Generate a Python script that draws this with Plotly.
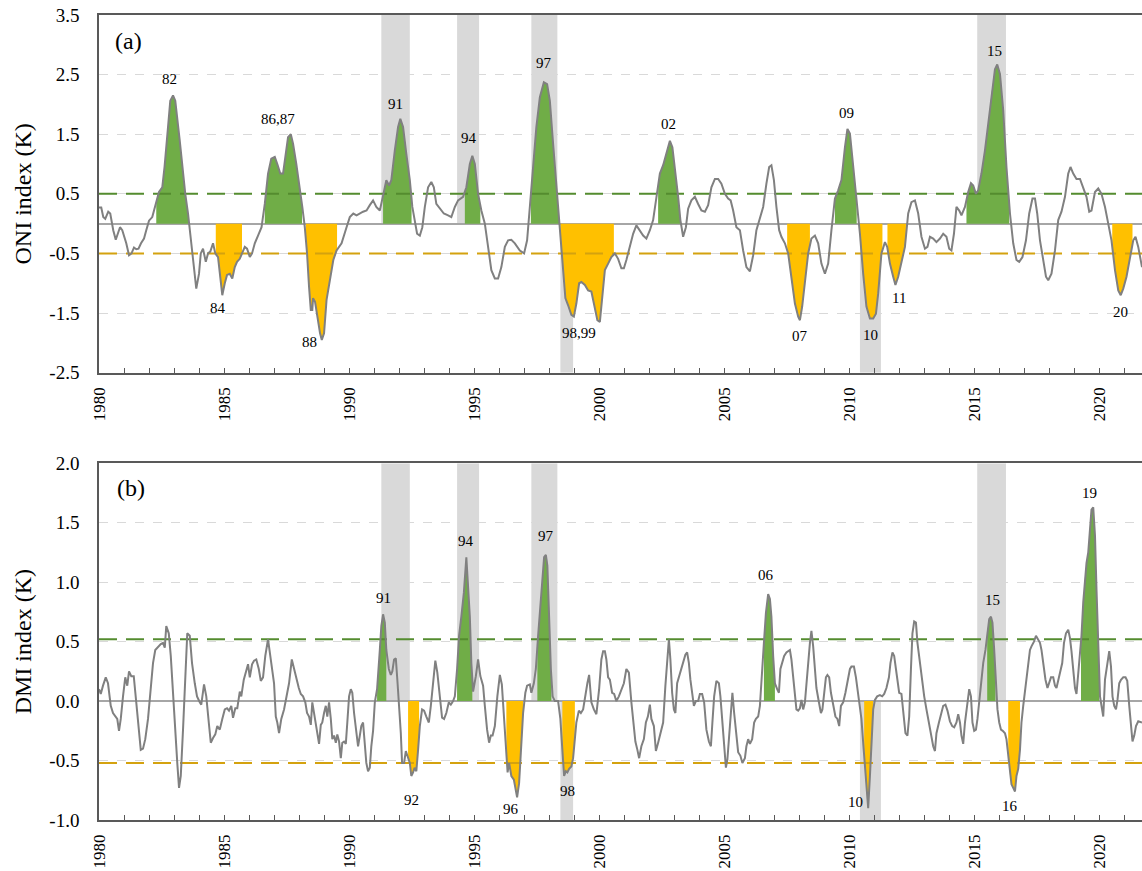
import numpy as np
import plotly.graph_objects as go

# ---------------- data ----------------
oni_t = [1980.00,1980.09,1980.17,1980.25,1980.37,1980.45,1980.57,1980.67,1980.84,1980.93,
         1981.09,1981.20,1981.30,1981.40,1981.49,1981.58,1981.68,1981.80,1981.89,1982.00,
         1982.13,1982.29,1982.40,1982.53,1982.62,1982.76,1982.85,1982.96,1983.05,1983.23,
         1983.33,1983.45,1983.56,1983.65,1983.76,1983.83,1983.89,1984.00,1984.07,1984.16,
         1984.27,1984.36,1984.45,1984.56,1984.65,1984.76,1984.85,1984.93,1985.03,1985.12,
         1985.23,1985.33,1985.43,1985.52,1985.63,1985.73,1985.83,1985.92,1986.03,1986.12,
         1986.23,1986.36,1986.50,1986.63,1986.76,1986.89,1987.03,1987.13,1987.25,1987.36,
         1987.47,1987.56,1987.67,1987.76,1987.89,1988.03,1988.13,1988.23,1988.32,1988.40,
         1988.47,1988.53,1988.56,1988.64,1988.75,1988.84,1988.91,1989.00,1989.10,1989.24,
         1989.37,1989.50,1989.70,1989.90,1990.03,1990.17,1990.30,1990.56,1990.70,1990.83,
         1990.96,1991.09,1991.23,1991.36,1991.49,1991.60,1991.69,1991.83,1991.96,1992.05,
         1992.16,1992.29,1992.43,1992.53,1992.63,1992.72,1992.83,1992.93,1993.03,1993.16,
         1993.29,1993.39,1993.49,1993.63,1993.79,1993.96,1994.09,1994.23,1994.36,1994.56,
         1994.69,1994.83,1994.93,1995.03,1995.16,1995.29,1995.43,1995.56,1995.69,1995.83,
         1995.96,1996.09,1996.23,1996.36,1996.49,1996.63,1996.83,1997.00,1997.12,1997.23,
         1997.36,1997.49,1997.63,1997.79,1997.92,1998.03,1998.16,1998.29,1998.40,1998.49,
         1998.56,1998.65,1998.76,1998.89,1998.99,1999.09,1999.20,1999.29,1999.43,1999.56,
         1999.69,1999.83,1999.93,2000.03,2000.12,2000.23,2000.36,2000.49,2000.63,2000.76,
         2000.89,2000.99,2001.09,2001.23,2001.36,2001.49,2001.63,2001.76,2001.89,2002.03,
         2002.16,2002.29,2002.43,2002.56,2002.69,2002.83,2002.93,2003.03,2003.16,2003.25,
         2003.36,2003.47,2003.56,2003.69,2003.83,2003.96,2004.09,2004.23,2004.36,2004.49,
         2004.63,2004.76,2004.89,2005.03,2005.16,2005.26,2005.36,2005.49,2005.63,2005.76,
         2005.89,2006.03,2006.16,2006.29,2006.43,2006.56,2006.69,2006.80,2006.89,2006.99,
         2007.09,2007.20,2007.29,2007.43,2007.56,2007.69,2007.83,2007.96,2008.03,2008.12,
         2008.23,2008.36,2008.49,2008.63,2008.76,2008.89,2009.03,2009.16,2009.29,2009.43,
         2009.56,2009.69,2009.83,2009.93,2010.03,2010.16,2010.29,2010.43,2010.56,2010.69,
         2010.83,2010.96,2011.07,2011.16,2011.29,2011.43,2011.52,2011.63,2011.76,2011.85,
         2011.96,2012.09,2012.23,2012.36,2012.49,2012.63,2012.76,2012.89,2013.03,2013.13,
         2013.23,2013.36,2013.49,2013.63,2013.76,2013.89,2014.00,2014.09,2014.19,2014.29,
         2014.40,2014.49,2014.63,2014.76,2014.87,2014.96,2015.07,2015.16,2015.29,2015.43,
         2015.56,2015.69,2015.83,2015.92,2016.03,2016.16,2016.29,2016.43,2016.56,2016.69,
         2016.80,2016.93,2017.07,2017.20,2017.33,2017.43,2017.52,2017.63,2017.76,2017.87,
         2017.96,2018.09,2018.23,2018.36,2018.49,2018.63,2018.76,2018.85,2018.96,2019.09,
         2019.23,2019.36,2019.49,2019.60,2019.69,2019.83,2019.96,2020.09,2020.23,2020.36,
         2020.49,2020.63,2020.76,2020.86,2020.96,2021.09,2021.23,2021.36,2021.45,2021.56,
         2021.71]
oni_v = [0.27,0.27,0.11,0.08,0.20,0.17,-0.11,-0.27,-0.06,-0.11,
         -0.33,-0.53,-0.50,-0.40,-0.43,-0.42,-0.33,-0.25,-0.11,0.05,
         0.11,0.39,0.53,0.61,0.95,1.62,2.06,2.15,2.06,1.39,
         0.95,0.50,0.17,-0.17,-0.61,-0.95,-1.09,-0.84,-0.50,-0.42,
         -0.64,-0.50,-0.47,-0.33,-0.50,-0.56,-0.95,-1.20,-1.00,-0.86,
         -0.84,-0.92,-0.73,-0.64,-0.59,-0.50,-0.39,-0.42,-0.56,-0.50,
         -0.33,-0.20,-0.06,0.33,0.84,1.09,1.12,1.00,0.84,0.84,
         1.17,1.45,1.50,1.34,1.00,0.61,0.28,-0.06,-0.50,-1.06,
         -1.45,-1.45,-1.25,-1.31,-1.62,-1.84,-1.95,-1.84,-1.28,-0.89,
         -0.61,-0.45,-0.33,-0.06,0.11,0.17,0.14,0.20,0.22,0.31,
         0.39,0.28,0.22,0.47,0.73,0.64,0.73,1.23,1.62,1.76,
         1.62,1.17,0.73,0.28,0.00,-0.17,-0.20,-0.06,0.28,0.61,
         0.70,0.61,0.33,0.25,0.17,0.14,0.11,0.28,0.39,0.45,
         0.61,1.00,1.14,1.00,0.50,0.22,0.00,-0.39,-0.78,-0.92,
         -0.92,-0.73,-0.39,-0.28,-0.27,-0.33,-0.45,-0.50,-0.28,0.28,
         0.95,1.62,2.12,2.37,2.34,2.06,1.34,0.61,0.06,-0.39,
         -0.84,-1.25,-1.37,-1.53,-1.56,-1.34,-1.00,-0.98,-1.03,-1.12,
         -1.14,-1.39,-1.62,-1.65,-1.28,-0.78,-0.67,-0.56,-0.50,-0.59,
         -0.75,-0.75,-0.61,-0.39,-0.17,-0.03,-0.11,-0.20,-0.25,-0.11,
         0.06,0.45,0.84,0.98,1.17,1.39,1.28,0.95,0.45,0.06,
         -0.22,-0.06,0.25,0.39,0.45,0.33,0.22,0.20,0.31,0.61,
         0.75,0.75,0.67,0.50,0.42,0.39,0.22,-0.06,-0.11,-0.45,
         -0.73,-0.80,-0.53,-0.11,0.11,0.28,0.67,0.95,0.98,0.73,
         0.28,-0.11,-0.22,-0.33,-0.50,-0.95,-1.34,-1.56,-1.62,-1.39,
         -0.95,-0.50,-0.25,-0.20,-0.33,-0.67,-0.84,-0.67,-0.11,0.42,
         0.56,0.73,1.28,1.59,1.51,1.00,0.45,-0.17,-0.84,-1.39,
         -1.59,-1.59,-1.51,-1.17,-0.50,-0.31,-0.39,-0.67,-0.89,-1.03,
         -0.89,-0.67,-0.39,0.17,0.36,0.39,0.17,-0.22,-0.42,-0.39,
         -0.22,-0.25,-0.31,-0.25,-0.17,-0.22,-0.42,-0.45,-0.17,0.28,
         0.22,0.14,0.28,0.53,0.68,0.64,0.50,0.56,0.84,1.23,
         1.67,2.18,2.59,2.67,2.51,1.90,0.95,0.17,-0.33,-0.61,
         -0.64,-0.56,-0.28,0.17,0.42,0.42,0.17,-0.28,-0.61,-0.89,
         -0.95,-0.84,-0.45,0.06,0.20,0.45,0.84,0.95,0.84,0.75,
         0.75,0.61,0.45,0.20,0.22,0.53,0.59,0.50,0.28,0.00,
         -0.28,-0.78,-1.12,-1.20,-1.09,-0.89,-0.56,-0.28,-0.22,-0.39,
         -0.73]

dmi_t = [1980.00,1980.07,1980.16,1980.27,1980.36,1980.47,1980.56,1980.67,1980.73,1980.80,
         1980.87,1980.96,1981.05,1981.13,1981.20,1981.29,1981.39,1981.49,1981.59,1981.67,
         1981.76,1981.85,1981.96,1982.05,1982.16,1982.25,1982.36,1982.47,1982.56,1982.63,
         1982.69,1982.79,1982.87,1982.96,1983.05,1983.13,1983.20,1983.27,1983.36,1983.45,
         1983.53,1983.63,1983.72,1983.83,1983.92,1984.03,1984.09,1984.20,1984.29,1984.39,
         1984.47,1984.56,1984.65,1984.73,1984.83,1984.93,1985.03,1985.12,1985.20,1985.29,
         1985.36,1985.45,1985.53,1985.63,1985.69,1985.79,1985.89,1985.96,1986.03,1986.12,
         1986.20,1986.29,1986.39,1986.47,1986.56,1986.65,1986.76,1986.85,1986.93,1987.00,
         1987.07,1987.13,1987.20,1987.29,1987.40,1987.49,1987.60,1987.71,1987.80,1987.89,
         1987.99,1988.07,1988.16,1988.25,1988.32,1988.40,1988.47,1988.53,1988.63,1988.72,
         1988.80,1988.87,1988.93,1989.00,1989.07,1989.13,1989.20,1989.27,1989.33,1989.40,
         1989.47,1989.53,1989.60,1989.67,1989.73,1989.80,1989.87,1989.93,1990.00,1990.07,
         1990.13,1990.20,1990.27,1990.36,1990.43,1990.49,1990.56,1990.63,1990.69,1990.76,
         1990.83,1990.89,1990.96,1991.03,1991.12,1991.23,1991.29,1991.36,1991.43,1991.49,
         1991.59,1991.67,1991.73,1991.80,1991.87,1991.94,1992.00,1992.07,1992.12,1992.20,
         1992.27,1992.36,1992.43,1992.49,1992.56,1992.62,1992.69,1992.76,1992.83,1992.92,
         1993.00,1993.09,1993.19,1993.27,1993.36,1993.45,1993.53,1993.63,1993.72,1993.80,
         1993.89,1993.99,1994.07,1994.16,1994.23,1994.32,1994.40,1994.49,1994.59,1994.69,
         1994.76,1994.83,1994.89,1994.96,1995.07,1995.16,1995.25,1995.36,1995.43,1995.52,
         1995.60,1995.67,1995.74,1995.83,1995.93,1996.03,1996.11,1996.19,1996.27,1996.34,
         1996.40,1996.49,1996.59,1996.65,1996.72,1996.80,1996.87,1996.96,1997.05,1997.12,
         1997.23,1997.29,1997.39,1997.47,1997.56,1997.65,1997.73,1997.80,1997.87,1997.93,
         1998.00,1998.07,1998.14,1998.23,1998.36,1998.45,1998.53,1998.60,1998.67,1998.73,
         1998.80,1998.89,1998.96,1999.03,1999.09,1999.19,1999.27,1999.36,1999.45,1999.53,
         1999.60,1999.69,1999.79,1999.89,2000.00,2000.09,2000.16,2000.23,2000.29,2000.36,
         2000.43,2000.52,2000.60,2000.69,2000.79,2000.89,2000.99,2001.09,2001.19,2001.29,
         2001.39,2001.45,2001.53,2001.60,2001.69,2001.79,2001.87,2001.95,2002.03,2002.09,
         2002.19,2002.27,2002.36,2002.45,2002.56,2002.65,2002.72,2002.79,2002.85,2002.92,
         2002.99,2003.05,2003.12,2003.20,2003.29,2003.39,2003.45,2003.52,2003.59,2003.65,
         2003.72,2003.79,2003.87,2003.96,2004.03,2004.12,2004.20,2004.29,2004.39,2004.47,
         2004.53,2004.60,2004.69,2004.79,2004.85,2004.93,2005.00,2005.07,2005.13,2005.20,
         2005.27,2005.33,2005.40,2005.47,2005.56,2005.65,2005.73,2005.83,2005.89,2005.96,
         2006.03,2006.12,2006.20,2006.27,2006.36,2006.43,2006.49,2006.59,2006.67,2006.76,
         2006.83,2006.89,2006.96,2007.03,2007.12,2007.19,2007.25,2007.32,2007.40,2007.49,
         2007.56,2007.63,2007.69,2007.76,2007.83,2007.89,2007.96,2008.03,2008.09,2008.16,
         2008.23,2008.29,2008.36,2008.43,2008.49,2008.56,2008.63,2008.69,2008.79,2008.87,
         2008.93,2009.00,2009.07,2009.13,2009.20,2009.27,2009.36,2009.45,2009.53,2009.60,
         2009.67,2009.76,2009.85,2009.93,2010.03,2010.09,2010.19,2010.27,2010.36,2010.43,
         2010.49,2010.56,2010.63,2010.69,2010.76,2010.83,2010.89,2010.96,2011.03,2011.12,
         2011.23,2011.32,2011.40,2011.49,2011.59,2011.65,2011.73,2011.80,2011.87,2011.93,
         2012.00,2012.09,2012.19,2012.25,2012.33,2012.40,2012.47,2012.53,2012.60,2012.67,
         2012.73,2012.83,2012.92,2013.00,2013.09,2013.19,2013.27,2013.36,2013.43,2013.49,
         2013.59,2013.67,2013.76,2013.85,2013.93,2014.03,2014.12,2014.20,2014.29,2014.36,
         2014.43,2014.49,2014.56,2014.63,2014.72,2014.80,2014.87,2014.93,2015.00,2015.07,
         2015.13,2015.20,2015.27,2015.36,2015.45,2015.53,2015.60,2015.67,2015.73,2015.80,
         2015.87,2015.93,2016.00,2016.07,2016.14,2016.23,2016.29,2016.36,2016.43,2016.49,
         2016.56,2016.63,2016.69,2016.76,2016.83,2016.89,2016.96,2017.03,2017.09,2017.16,
         2017.23,2017.29,2017.39,2017.47,2017.53,2017.63,2017.69,2017.76,2017.85,2017.93,
         2018.00,2018.07,2018.16,2018.23,2018.29,2018.36,2018.45,2018.52,2018.59,2018.67,
         2018.76,2018.83,2018.89,2018.96,2019.03,2019.09,2019.16,2019.23,2019.29,2019.36,
         2019.43,2019.49,2019.56,2019.63,2019.69,2019.76,2019.83,2019.89,2019.96,2020.03,
         2020.09,2020.16,2020.23,2020.32,2020.40,2020.47,2020.53,2020.60,2020.67,2020.73,
         2020.80,2020.87,2020.96,2021.05,2021.12,2021.20,2021.27,2021.33,2021.40,2021.47,
         2021.56,2021.71]
dmi_v = [0.10,0.06,0.13,0.20,0.15,-0.04,-0.10,-0.13,-0.15,-0.25,
         -0.15,0.04,0.20,0.13,0.25,0.21,0.21,-0.01,-0.24,-0.41,
         -0.40,-0.32,-0.15,0.04,0.32,0.43,0.46,0.48,0.49,0.45,
         0.63,0.57,0.38,0.04,-0.29,-0.52,-0.73,-0.63,-0.24,0.27,
         0.57,0.55,0.32,0.15,0.04,-0.01,-0.03,0.14,0.04,-0.18,
         -0.35,-0.31,-0.28,-0.21,-0.24,-0.15,-0.07,-0.06,-0.08,-0.04,
         -0.14,-0.06,-0.06,0.08,0.04,0.18,0.27,0.31,0.20,0.31,
         0.34,0.35,0.27,0.17,0.20,0.38,0.52,0.38,0.27,0.15,
         -0.13,-0.18,-0.27,-0.15,-0.07,0.04,0.15,0.35,0.27,0.18,
         0.11,0.06,0.04,-0.01,-0.10,-0.13,-0.20,-0.01,-0.15,-0.27,
         -0.36,-0.20,-0.18,-0.10,-0.04,-0.13,-0.01,-0.15,-0.32,-0.29,
         -0.35,-0.28,-0.34,-0.48,-0.35,-0.34,-0.36,-0.18,0.04,0.10,
         0.07,-0.10,-0.24,-0.38,-0.29,-0.21,-0.18,-0.34,-0.52,-0.59,
         -0.56,-0.38,-0.25,-0.01,0.10,0.43,0.63,0.73,0.66,0.43,
         0.27,0.22,0.25,0.35,0.36,0.15,-0.01,-0.27,-0.52,-0.52,
         -0.42,-0.48,-0.52,-0.63,-0.60,-0.56,-0.59,-0.41,-0.21,-0.07,
         -0.08,-0.13,-0.18,-0.04,0.18,0.34,0.24,0.04,-0.14,-0.15,
         -0.10,-0.01,-0.03,0.00,0.04,0.27,0.55,0.71,0.91,1.21,
         1.00,0.71,0.32,0.08,0.21,0.35,0.21,0.13,-0.04,-0.24,
         -0.35,-0.29,-0.29,-0.21,0.04,0.22,0.14,-0.15,-0.38,-0.60,
         -0.52,-0.63,-0.66,-0.74,-0.81,-0.69,-0.41,-0.10,0.07,0.13,
         0.14,0.07,0.15,0.27,0.55,0.80,1.02,1.21,1.23,1.14,
         0.71,0.27,0.04,0.00,0.00,-0.15,-0.41,-0.63,-0.59,-0.60,
         -0.57,-0.55,-0.48,-0.29,-0.18,-0.08,-0.10,-0.07,0.07,0.15,
         0.22,-0.01,-0.07,-0.11,0.10,0.35,0.42,0.42,0.35,0.20,
         0.18,0.07,0.06,0.00,0.04,0.10,0.15,0.27,0.24,-0.01,
         -0.24,-0.34,-0.41,-0.48,-0.38,-0.32,-0.18,-0.13,-0.03,-0.15,
         -0.21,-0.42,-0.35,-0.27,-0.18,0.13,0.32,0.52,0.35,0.07,
         -0.07,-0.10,0.15,0.21,0.27,0.35,0.39,0.41,0.32,0.18,
         0.07,-0.04,0.00,0.00,0.06,0.06,-0.01,-0.24,-0.34,-0.38,
         -0.18,0.04,0.17,0.15,0.04,-0.18,-0.38,-0.56,-0.49,-0.29,
         -0.10,0.07,-0.10,-0.24,-0.43,-0.46,-0.52,-0.48,-0.38,-0.32,
         -0.36,-0.32,-0.18,-0.15,-0.13,-0.04,0.13,0.49,0.74,0.90,
         0.86,0.71,0.38,0.15,0.10,0.07,0.27,0.32,0.38,0.41,
         0.42,0.43,0.35,0.21,0.04,-0.07,-0.08,-0.06,0.01,-0.07,
         -0.01,0.15,0.32,0.49,0.59,0.46,0.27,0.11,-0.01,-0.10,
         -0.07,0.07,0.20,0.22,0.20,0.07,-0.04,-0.13,-0.15,-0.21,
         -0.04,-0.01,0.07,0.15,0.27,0.29,0.29,0.20,0.04,-0.04,
         -0.15,-0.35,-0.57,-0.74,-0.90,-0.63,-0.32,-0.07,0.01,0.04,
         0.05,0.04,0.06,0.11,0.20,0.32,0.41,0.38,0.27,0.15,
         0.07,0.06,-0.13,-0.27,-0.29,-0.13,0.27,0.57,0.67,0.66,
         0.49,0.32,0.13,0.04,-0.07,-0.18,-0.29,-0.38,-0.42,-0.27,
         -0.18,-0.10,-0.04,-0.03,-0.08,-0.17,-0.21,-0.22,-0.18,-0.11,
         -0.18,-0.29,-0.36,-0.18,-0.04,0.10,0.04,-0.18,-0.25,-0.24,
         -0.15,0.01,0.15,0.32,0.43,0.57,0.69,0.71,0.66,0.43,
         0.15,-0.07,-0.18,-0.24,-0.25,-0.27,-0.32,-0.46,-0.62,-0.70,
         -0.73,-0.76,-0.63,-0.57,-0.41,-0.18,-0.04,0.07,0.21,0.32,
         0.43,0.46,0.50,0.55,0.53,0.49,0.43,0.32,0.18,0.11,
         0.15,0.20,0.20,0.13,0.11,0.18,0.27,0.32,0.49,0.57,
         0.60,0.53,0.42,0.27,0.11,0.06,0.21,0.38,0.55,0.83,
         1.05,1.16,1.25,1.47,1.61,1.63,1.39,0.94,0.46,0.04,
         -0.04,-0.13,0.18,0.32,0.42,0.29,0.04,-0.04,-0.07,0.01,
         0.15,0.18,0.20,0.20,0.17,-0.04,-0.24,-0.34,-0.29,-0.21,
         -0.17,-0.18]

# thresholds
oni_thr = [0.5, -0.5]
dmi_thr = [0.52, -0.52]

# event periods (start, end) used for coloured fills
oni_warm = [(1982.29, 1983.56), (1986.63, 1988.12), (1991.36, 1992.50), (1994.63, 1995.25),
            (1997.27, 1998.41), (2002.36, 2003.24), (2009.43, 2010.30), (2014.69, 2016.40)]
oni_cold = [(1984.67, 1985.72), (1988.27, 1989.52), (1998.45, 2000.59), (2007.52, 2008.43),
            (2010.40, 2011.33), (2011.53, 2012.27), (2020.52, 2021.33)]
dmi_pos = [(1991.12, 1991.49), (1994.32, 1994.93), (1997.53, 1998.09), (2006.59, 2007.03),
           (2015.52, 2015.85), (2019.27, 2020.00)]
dmi_neg = [(1992.36, 1992.80), (1996.29, 1996.96), (1998.53, 1999.03), (2010.60, 2010.96),
           (2016.36, 2016.83)]

# shaded (grey) periods
band_pos = [(1991.29, 1992.43), (1994.32, 1995.20), (1997.29, 1998.33), (2015.12, 2016.27)]
band_neg = [(1998.45, 1998.96), (2010.43, 2011.27)]

# event labels
oni_lab_text = ["82", "84", "86,87", "88", "91", "94", "97", "98,99", "02", "07", "09", "10", "11", "15", "20"]
oni_lab_x = [1982.83, 1984.77, 1987.17, 1988.42, 1991.87, 1994.79, 1997.80, 1999.20, 2002.79,
             2008.03, 2009.91, 2010.85, 2012.00, 2015.83, 2020.85]
oni_lab_y = [2.43, -1.42, 1.76, -1.98, 2.00, 1.44, 2.69, -1.84, 1.67, -1.89, 1.85, -1.86, -1.25, 2.90, -1.48]
dmi_lab_text = ["91", "92", "94", "96", "97", "98", "06", "10", "15", "16", "19"]
dmi_lab_x = [1991.36, 1992.50, 1994.69, 1996.49, 1997.89, 1998.72, 2006.67, 2010.27, 2015.73, 2016.43, 2019.63]
dmi_lab_y = [0.87, -0.83, 1.35, -0.91, 1.39, -0.76, 1.06, -0.85, 0.85, -0.88, 1.75]

x_range = [1980, 2021.71]
oni_range = [-2.5, 3.5]
dmi_range = [-1.0, 2.0]
oni_ticks = [-2.5, -1.5, -0.5, 0.5, 1.5, 2.5, 3.5]
dmi_ticks = [-1.0, -0.5, 0.0, 0.5, 1.0, 1.5, 2.0]
year_ticks = list(range(1980, 2021, 5))

# ---------------- styling ----------------
FONT = "Liberation Serif, Times New Roman, serif"
GREEN = "#70AD47"
GOLD = "#FFC000"
GREEN_D = "#548C2F"
GOLD_D = "#D4A20F"
BAND = "#D9D9D9"
LINE = "#808080"
AXIS = "#595959"


def event_poly(t, v, s, e):
    t = np.asarray(t)
    v = np.asarray(v)
    m = (t > s) & (t < e)
    xs = [s, s] + list(t[m]) + [e, e]
    ys = [0.0, float(np.interp(s, t, v))] + list(v[m]) + [float(np.interp(e, t, v)), 0.0]
    return xs, ys


fig = go.Figure()


def add_panel(t, v, warm, cold, thr, xa, ya):
    for s, e in warm:
        xs, ys = event_poly(t, v, s, e)
        fig.add_trace(go.Scatter(x=xs, y=ys, fill="toself", fillcolor=GREEN, mode="none",
                                 xaxis=xa, yaxis=ya, hoverinfo="skip"))
    for s, e in cold:
        xs, ys = event_poly(t, v, s, e)
        fig.add_trace(go.Scatter(x=xs, y=ys, fill="toself", fillcolor=GOLD, mode="none",
                                 xaxis=xa, yaxis=ya, hoverinfo="skip"))
    fig.add_trace(go.Scatter(x=x_range, y=[thr[0]] * 2, mode="lines",
                             line=dict(color=GREEN_D, width=2, dash="18px,9px"),
                             xaxis=xa, yaxis=ya, hoverinfo="skip"))
    fig.add_trace(go.Scatter(x=x_range, y=[thr[1]] * 2, mode="lines",
                             line=dict(color=GOLD_D, width=2, dash="18px,9px"),
                             xaxis=xa, yaxis=ya, hoverinfo="skip"))
    fig.add_trace(go.Scatter(x=t, y=v, mode="lines", line=dict(color=LINE, width=2),
                             xaxis=xa, yaxis=ya))


add_panel(oni_t, oni_v, oni_warm, oni_cold, oni_thr, "x", "y")
add_panel(dmi_t, dmi_v, dmi_pos, dmi_neg, dmi_thr, "x2", "y2")

shapes = []
for yref, rng in (("y", oni_range), ("y2", dmi_range)):
    xref = "x" if yref == "y" else "x2"
    for s, e in band_pos:
        shapes.append(dict(type="rect", xref=xref, yref=yref, x0=s, x1=e, y0=0, y1=rng[1],
                           fillcolor=BAND, line=dict(width=0), layer="below"))
    for s, e in band_neg:
        shapes.append(dict(type="rect", xref=xref, yref=yref, x0=s, x1=e, y0=rng[0], y1=0,
                           fillcolor=BAND, line=dict(width=0), layer="below"))

annotations = []
for txt, x, y in zip(oni_lab_text, oni_lab_x, oni_lab_y):
    annotations.append(dict(x=x, y=y, xref="x", yref="y", text=txt, showarrow=False,
                            font=dict(family=FONT, size=15, color="black")))
for txt, x, y in zip(dmi_lab_text, dmi_lab_x, dmi_lab_y):
    annotations.append(dict(x=x, y=y, xref="x2", yref="y2", text=txt, showarrow=False,
                            font=dict(family=FONT, size=15, color="black")))
annotations += [
    dict(x=0.0285, y=0.927, xref="x domain", yref="y domain", text="(a)", showarrow=False,
         xanchor="center", yanchor="middle", font=dict(family=FONT, size=24, color="black")),
    dict(x=0.031, y=0.93, xref="x2 domain", yref="y2 domain", text="(b)", showarrow=False,
         xanchor="center", yanchor="middle", font=dict(family=FONT, size=24, color="black")),
    dict(x=-0.0732, y=0.5, xref="x domain", yref="y domain", text="ONI index (K)", textangle=-90,
         xanchor="center", yanchor="middle", showarrow=False,
         font=dict(family=FONT, size=24, color="black")),
    dict(x=-0.0732, y=0.5, xref="x2 domain", yref="y2 domain", text="DMI index (K)", textangle=-90,
         xanchor="center", yanchor="middle", showarrow=False,
         font=dict(family=FONT, size=24, color="black")),
]

xcommon = dict(range=x_range, showgrid=False, zeroline=False, showline=True, linecolor=AXIS,
               linewidth=1.5, mirror=True, ticks="inside", ticklen=5, tickcolor=AXIS,
               tickvals=year_ticks, ticktext=[str(y) for y in year_ticks], tickangle=-90,
               tickfont=dict(family=FONT, size=17, color="black"), ticklabelstandoff=6,
               minor=dict(dtick=1, tick0=1980, ticks="inside", ticklen=5, tickcolor=AXIS, showgrid=False),
               automargin=False)
ycommon = dict(showgrid=True, gridcolor="#D9D9D9", griddash="dash", gridwidth=1.2,
               zeroline=True, zerolinecolor="#A6A6A6", zerolinewidth=1.5,
               showline=True, linecolor=AXIS, linewidth=1.5, ticks="",
               tickfont=dict(family=FONT, size=19, color="black"), ticklabelstandoff=14,
               automargin=False)

fig.update_layout(
    width=1142, height=871,
    margin=dict(l=99, r=0, t=15, b=51),
    paper_bgcolor="white", plot_bgcolor="white",
    showlegend=False,
    xaxis=dict(domain=[0, 1], anchor="y", **xcommon),
    xaxis2=dict(domain=[0, 1], anchor="y2", **xcommon),
    yaxis=dict(domain=[0.5557, 1], anchor="x", range=oni_range, tickvals=oni_ticks,
               ticktext=[f"{v:.1f}" for v in oni_ticks], **ycommon),
    yaxis2=dict(domain=[0, 0.4431], anchor="x2", range=dmi_range, tickvals=dmi_ticks,
                ticktext=[f"{v:.1f}" for v in dmi_ticks], **ycommon),
    shapes=shapes,
    annotations=annotations,
)

fig.write_html("out.html", config={"displayModeBar": False},
               post_script="document.body.style.margin='0px';document.body.style.overflow='hidden';")
